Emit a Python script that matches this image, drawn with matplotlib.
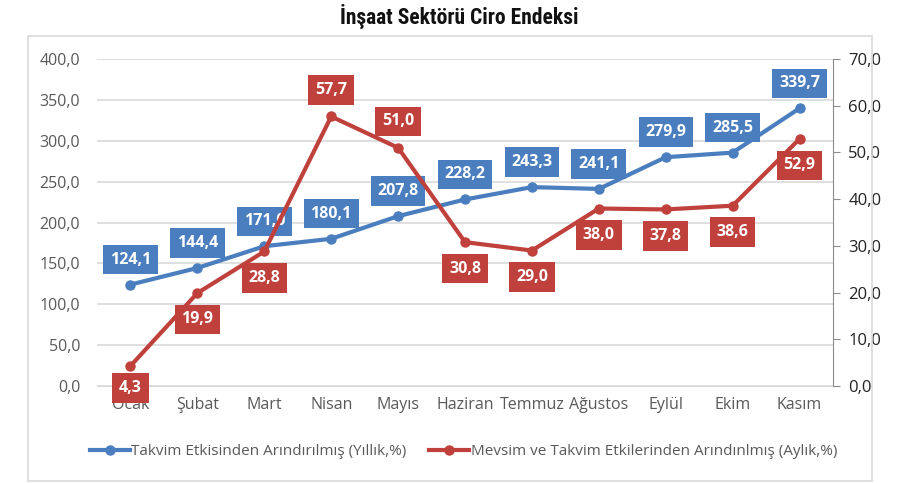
import matplotlib.pyplot as plt
from matplotlib.patches import Rectangle

months = ["Ocak", "Şubat", "Mart", "Nisan", "Mayıs", "Haziran", "Temmuz",
          "Ağustos", "Eylül", "Ekim", "Kasım"]
yillik = [124.1, 144.4, 171.0, 180.1, 207.8, 228.2, 243.3, 241.1, 279.9, 285.5, 339.7]
aylik = [4.3, 19.9, 28.8, 57.7, 51.0, 30.8, 29.0, 38.0, 37.8, 38.6, 52.9]
# label offset of the red boxes (points, + above / - below)
aylik_offset = [-16, -19, -19, 19, 19, -19, -19, -19, -19, -19, -19]

blue = "#4a7ebf"
red = "#c0403c"
font = ["Open Sans", "DejaVu Sans"]


def fmt(v):
    return f"{v:.1f}".replace(".", ",")


def main():
    plt.rcParams['font.family'] = font
    fig = plt.figure(figsize=(9.18, 4.83), dpi=100)

    # outer frame of the chart
    fig.patches.append(Rectangle((28 / 918, 2 / 483), 844 / 918, 445 / 483,
                                 transform=fig.transFigure, fill=False,
                                 edgecolor="#d9d9d9", linewidth=1.2))
    fig.text(0.5, 0.965, "İnşaat Sektörü Ciro Endeksi", ha="center", va="center",
             fontsize=15.5, fontweight="bold",
             family=["Roboto Condensed", "Liberation Sans Narrow", "DejaVu Sans"],
             color="#111111")

    ax = fig.add_axes([0.1057, 0.2008, 0.8017, 0.677])
    ax2 = ax.twinx()
    x = list(range(len(months)))

    ax.plot(x, yillik, color=blue, lw=3, marker="o", ms=6.5,
            label="Takvim Etkisinden Arındırılmış (Yıllık,%)")
    ax2.plot(x, aylik, color=red, lw=3, marker="o", ms=6.5,
             label="Mevsim ve Takvim Etkilerinden Arındınlmış (Aylık,%)")

    for xi, v in zip(x, yillik):
        ax.annotate(fmt(v), (xi, v), xytext=(0, 18), textcoords="offset points",
                    ha="center", va="center", color="white", fontsize=11.5,
                    fontweight="bold",
                    bbox=dict(boxstyle="square,pad=0.42", fc=blue, ec="none"))
    for xi, v, off in zip(x, aylik, aylik_offset):
        ax2.annotate(fmt(v), (xi, v), xytext=(0, off), textcoords="offset points",
                     ha="center", va="center", color="white", fontsize=11.5,
                     fontweight="bold",
                     bbox=dict(boxstyle="square,pad=0.42", fc=red, ec="none"))

    ax.set_xlim(-0.5, len(months) - 0.5)
    ax.set_ylim(0, 400)
    ax2.set_ylim(0, 70)
    ax.set_yticks(range(0, 401, 50))
    ax2.set_yticks(range(0, 71, 10))
    ax.set_yticklabels([fmt(v) for v in range(0, 401, 50)])
    ax2.set_yticklabels([fmt(v) for v in range(0, 71, 10)])
    ax.set_xticks(x)
    ax.set_xticklabels(months)

    ax.grid(axis="y", color="#d9d9d9", lw=1.2)
    ax.set_axisbelow(True)
    for a in (ax, ax2):
        for sp in ("top", "left", "right"):
            a.spines[sp].set_visible(False)
        a.spines["bottom"].set_color("#d9d9d9")
    ax2.spines["right"].set_visible(True)
    ax2.spines["right"].set_color("#8c8c8c")
    ax2.spines["bottom"].set_visible(False)

    ax.tick_params(axis="y", length=0, labelsize=11.5, colors="#595959", pad=12)
    ax.tick_params(axis="x", length=0, labelsize=11.5, colors="#595959", pad=8)
    ax2.tick_params(axis="y", length=5, color="#8c8c8c", labelsize=12,
                    labelcolor="#222222", pad=6)

    h1, l1 = ax.get_legend_handles_labels()
    h2, l2 = ax2.get_legend_handles_labels()
    fig.legend(h1 + h2, l1 + l2, loc="center", bbox_to_anchor=(0.505, 0.065),
               ncol=2, frameon=False, fontsize=11, handlelength=2.6,
               handletextpad=0.1, columnspacing=1.5, labelcolor="#595959")

    fig.savefig("out.png", dpi=100)


if __name__ == "__main__":
    main()
